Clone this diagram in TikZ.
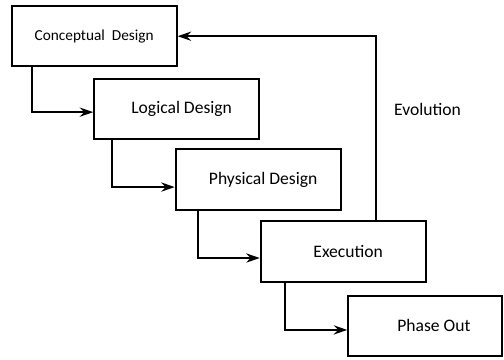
\documentclass[tikz,border=0pt]{standalone}
\usepackage{fontspec}
\setmainfont{Carlito}
\usetikzlibrary{arrows.meta,positioning,calc}

\begin{document}
\begin{tikzpicture}[
node distance=2.5mm and 16.8mm,
every node/.style={font=\fontsize{10}{12}\selectfont},
phase/.style={draw=black,line width=1.1pt,minimum width=3.3cm,
minimum height=1.21cm,inner sep=0pt,align=center,anchor=north west},
arr/.style={-{Stealth[length=2.7mm,width=1.85mm,inset=0.9mm]},line width=1.1pt}
]
\useasboundingbox (0,0) rectangle (10.08,-7.2);
\node[phase,font=\fontsize{8.7}{10}\selectfont] (concept) at (0.214,-0.1) {Conceptual\ \ Design};
\node[phase,below right=0.21cm and 1.65cm of concept.south west] (logical) {\hspace*{0.2cm}Logical Design};
\node[phase,below right=0.16cm and 1.63cm of logical.south west] (physical) {\hspace*{0.2cm}Physical Design};
\node[phase,below right=0.19cm and 1.7cm of physical.south west] (exec) {\hspace*{0.2cm}Execution};
\node[phase,minimum width=3.08cm,below right=0.24cm and 1.75cm of exec.south west] (phaseout) {\hspace*{0.35cm}Phase Out};

\draw[arr] ([xshift=0.43cm]concept.south west) |- ([yshift=-0.06cm]logical.west);
\draw[arr] ([xshift=0.38cm]logical.south west) |- ([yshift=-0.15cm]physical.west);
\draw[arr] ([xshift=0.47cm]physical.south west) |- ([yshift=-0.13cm]exec.west);
\draw[arr] ([xshift=0.51cm]exec.south west) |- ([yshift=-0.08cm]phaseout.west);

% feedback loop
\draw[arr] ([xshift=2.32cm]exec.north west) |- (concept.east);
\node (evolution) at (8.55,-2.18) {Evolution};
\end{tikzpicture}
\end{document}
